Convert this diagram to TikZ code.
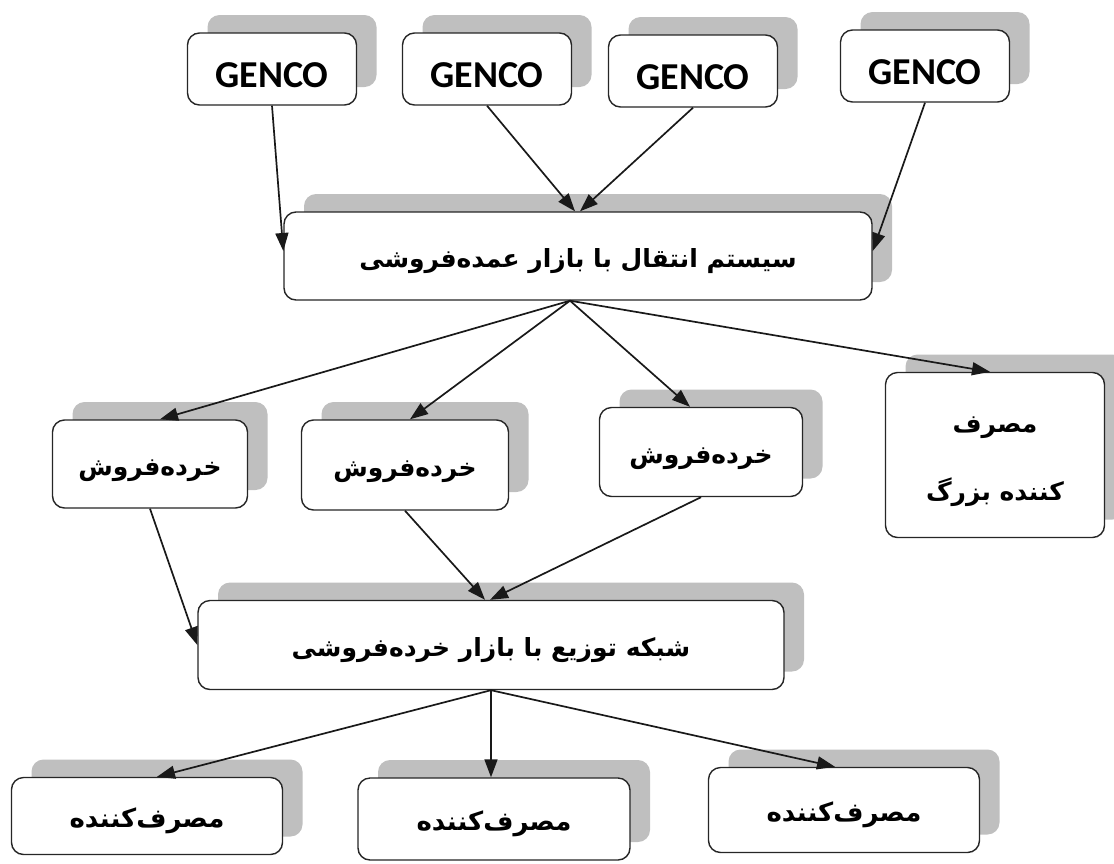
\documentclass[tikz,border=0pt]{standalone}
\usepackage{fontspec}
\setmainfont{Carlito}
\newfontfamily\arabicfont[Script=Arabic]{DejaVu Sans}
\TeXXeTstate=1
\usetikzlibrary{arrows.meta,shadows,calc}
\tikzset{
  box/.style={draw=black!85, line width=1.4pt, rounded corners=12pt, fill=white, inner sep=0pt, align=center,
    general shadow={fill=black!25, draw=none, shadow xshift=20pt, shadow yshift=18pt}},
  gen/.style={box, minimum width=169pt, minimum height=72pt, font=\fontsize{38}{40}\selectfont\bfseries},
  fa/.style={font=\arabicfont\fontsize{25}{40}\selectfont\bfseries},
  fb/.style={font=\arabicfont\fontsize{26}{40}\selectfont\bfseries},
  arr/.style={-{Triangle[length=18pt,width=13pt]}, line width=1.7pt, black!90}
}
\newcommand{\fatext}[1]{\raisebox{-11pt}[0pt][0pt]{\beginR #1\endR}}
\newcommand{\gentext}{\raisebox{-18pt}[0pt][0pt]{GENCO}}
\begin{document}
\begin{tikzpicture}[x=1pt,y=-1pt]
\useasboundingbox (0,0) rectangle (1114,863);
% GENCO row
\node[gen] (g1) at (272,69) {\gentext};
\node[gen] (g2) at (487,69) {\gentext};
\node[gen] (g3) at (693,71) {\gentext};
\node[gen] (g4) at (925,66) {\gentext};
% transmission
\node[box,fa,minimum width=588pt,minimum height=88pt] (tr) at (578,256) {\fatext{سیستم انتقال با بازار عمده‌فروشی}};
% retailers
\node[box,fa,minimum width=195pt,minimum height=88pt] (r1) at (150,464) {\fatext{خرده‌فروش}};
\node[box,fa,minimum width=207pt,minimum height=90pt] (r2) at (405,465) {\fatext{خرده‌فروش}};
\node[box,fa,minimum width=203pt,minimum height=89pt] (r3) at (701,452) {\fatext{خرده‌فروش}};
\node[box,fa,minimum width=219pt,minimum height=165pt] (lc) at (995,455) {\fatext{مصرف}\\[28pt]\fatext{کننده بزرگ}};
% distribution
\node[box,fa,minimum width=586pt,minimum height=89pt] (ds) at (491,645) {\fatext{شبکه توزیع با بازار خرده‌فروشی}};
% consumers
\node[box,fb,minimum width=271pt,minimum height=77pt] (c1) at (147,816) {\fatext{مصرف‌کننده}};
\node[box,fb,minimum width=272pt,minimum height=82pt] (c2) at (494,819) {\fatext{مصرف‌کننده}};
\node[box,fb,minimum width=271pt,minimum height=85pt] (c3) at (844,810) {\fatext{مصرف‌کننده}};
% arrows
\draw[arr] (g1.south) -- ([yshift=5pt]tr.west);
\draw[arr] (g2.south) -- ([xshift=-3pt]tr.north);
\draw[arr] (g3.south) -- ([xshift=2pt]tr.north);
\draw[arr] (g4.south) -- ([yshift=5pt]tr.east);
\coordinate (ts) at ([xshift=-8pt]tr.south);
\draw[arr] (ts) -- ([xshift=10pt]r1.north);
\draw[arr] (ts) -- ([xshift=5pt]r2.north);
\draw[arr] (ts) -- ([xshift=-11pt]r3.north);
\draw[arr] (ts) -- ([xshift=-5pt]lc.north);
\draw[arr] (r1.south) -- (ds.west);
\draw[arr] (r2.south) -- ([xshift=-6pt]ds.north);
\draw[arr] (r3.south) -- ([xshift=-1pt]ds.north);
\draw[arr] (ds.south) -- ([xshift=10pt]c1.north);
\draw[arr] (ds.south) -- ([xshift=-3pt]c2.north);
\draw[arr] (ds.south) -- ([xshift=-9pt]c3.north);
\end{tikzpicture}
\end{document}
